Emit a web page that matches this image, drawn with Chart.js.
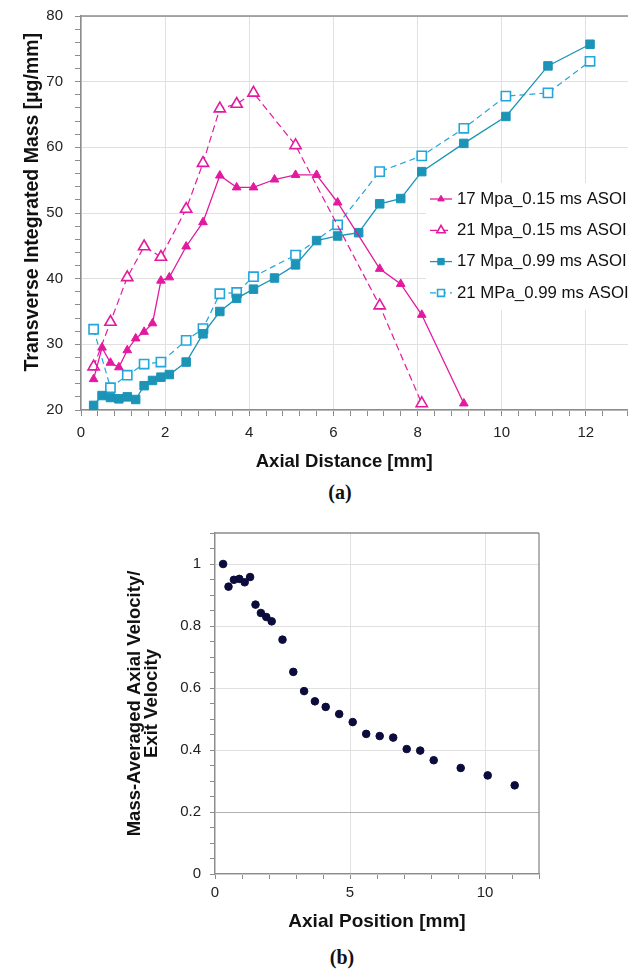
<!DOCTYPE html>
<html>
<head>
<meta charset="utf-8">
<script src="https://cdn.jsdelivr.net/npm/chart.js@4.4.1/dist/chart.umd.min.js"></script>
<style>
  body { margin: 0; background: #fff; width: 628px; height: 971px; position: relative; overflow: hidden; }
  canvas { position: absolute; left: 0; }
  #chartA { top: -5px; }
  #chartB { top: 500px; }
  .cap { position: absolute; font: bold 20px "Liberation Serif", "DejaVu Serif", serif; color: #111; transform: translate(-50%, -50%); }
</style>
</head>
<body>
<!-- canvas (a) runs 8px past the right edge so the plot area reaches it -->
<canvas id="chartA" width="636" height="485"></canvas>
<div class="cap" style="left:340px; top:492px">(a)</div>
<canvas id="chartB" width="628" height="440"></canvas>
<div class="cap" style="left:342px; top:957px">(b)</div>
<script>
// (a) transverse integrated mass vs axial distance
const x17_015 = [0.3, 0.5, 0.7, 0.9, 1.1, 1.3, 1.5, 1.7, 1.9, 2.1, 2.5, 2.9, 3.3, 3.7, 4.1, 4.6, 5.1, 5.6, 6.1, 7.1, 7.6, 8.1, 9.1];
const y17_015 = [24.7, 29.5, 27.2, 26.5, 29.1, 30.9, 31.9, 33.2, 39.7, 40.2, 44.9, 48.6, 55.7, 53.9, 53.9, 55.1, 55.8, 55.8, 51.6, 41.5, 39.2, 34.5, 21.0];

const x21_015 = [0.3, 0.7, 1.1, 1.5, 1.9, 2.5, 2.9, 3.3, 3.7, 4.1, 5.1, 7.1, 8.1];
const y21_015 = [26.6, 33.4, 40.2, 44.9, 43.3, 50.6, 57.6, 65.9, 66.6, 68.3, 60.3, 35.9, 21.0];

const x17_099 = [0.3, 0.5, 0.7, 0.9, 1.1, 1.3, 1.5, 1.7, 1.9, 2.1, 2.5, 2.9, 3.3, 3.7, 4.1, 4.6, 5.1, 5.6, 6.1, 6.6, 7.1, 7.6, 8.1, 9.1, 10.1, 11.1, 12.1];
const y17_099 = [20.7, 22.2, 21.9, 21.7, 22.0, 21.6, 23.7, 24.5, 25.0, 25.4, 27.3, 31.6, 35.0, 37.0, 38.4, 40.1, 42.1, 45.8, 46.5, 47.0, 51.4, 52.2, 56.3, 60.6, 64.7, 72.4, 75.7];

const x21_099 = [0.3, 0.7, 1.1, 1.5, 1.9, 2.5, 2.9, 3.3, 3.7, 4.1, 5.1, 6.1, 7.1, 8.1, 9.1, 10.1, 11.1, 12.1];
const y21_099 = [32.3, 23.4, 25.3, 27.0, 27.3, 30.6, 32.4, 37.7, 37.9, 40.3, 43.6, 48.2, 56.3, 58.7, 62.9, 67.8, 68.3, 73.1];

const seriesNames = ['17 Mpa_0.15 ms ASOI', '21 Mpa_0.15 ms ASOI', '17 Mpa_0.99 ms ASOI', '21 MPa_0.99 ms ASOI'];

// (b) mass-averaged axial velocity / exit velocity
const xVel = [0.3, 0.5, 0.7, 0.9, 1.1, 1.3, 1.5, 1.7, 1.9, 2.1, 2.5, 2.9, 3.3, 3.7, 4.1, 4.6, 5.1, 5.6, 6.1, 6.6, 7.1, 7.6, 8.1, 9.1, 10.1, 11.1];
const yVel = [1.0, 0.927, 0.949, 0.952, 0.941, 0.958, 0.869, 0.842, 0.829, 0.815, 0.756, 0.652, 0.590, 0.557, 0.539, 0.516, 0.490, 0.452, 0.445, 0.440, 0.403, 0.398, 0.367, 0.342, 0.318, 0.286];

const MAGENTA = '#e3199f', TEAL = '#1b94b8', SKY = '#22a6dc', NAVY = '#0c0c3c';
const AXIS = '#8c8c8c', GRID = '#e0e0e0';
const NB = '\u00A0';

Chart.defaults.font.family = '"Liberation Sans", Arial, Helvetica, sans-serif';
Chart.defaults.color = '#222';

function pts(xs, ys) {
  return xs.map((x, i) => ({ x: x, y: ys[i] }));
}
function onStep(v, step) {
  const r = v / step;
  return Math.abs(r - Math.round(r)) < 1e-6;
}

// box lines round the plot area
const frame = {
  id: 'frame',
  afterDraw(chart, args, opts) {
    const { left, right, top, bottom } = chart.chartArea;
    const ctx = chart.ctx;
    ctx.save();
    ctx.strokeStyle = opts.color;
    ctx.lineWidth = opts.width;
    ctx.beginPath();
    if (opts.sides.includes('top')) { ctx.moveTo(left, top); ctx.lineTo(right, top); }
    if (opts.sides.includes('right')) { ctx.moveTo(right, top); ctx.lineTo(right, bottom); }
    ctx.stroke();
    ctx.restore();
  }
};

// legend with a line and marker for each series
const lineLegend = {
  id: 'lineLegend',
  afterDraw(chart, args, opts) {
    const ctx = chart.ctx;
    ctx.save();
    ctx.fillStyle = '#fff';
    ctx.fillRect(opts.x - 4, opts.y0 - 16, chart.width - opts.x + 4, opts.dy * 4 + 2);
    chart.data.datasets.forEach((ds, i) => {
      const y = opts.y0 + i * opts.dy;
      ctx.strokeStyle = ds.borderColor;
      ctx.lineWidth = ds.borderWidth;
      ctx.setLineDash(ds.borderDash || []);
      ctx.beginPath();
      ctx.moveTo(opts.x, y);
      ctx.lineTo(opts.x + opts.len, y);
      ctx.stroke();
      ctx.setLineDash([]);
      ctx.fillStyle = ds.pointBackgroundColor;
      ctx.lineWidth = ds.pointBorderWidth;
      Chart.helpers.drawPoint(ctx, {
        pointStyle: ds.pointStyle, radius: ds.pointRadius * 0.75,
        rotation: 0, borderWidth: ds.pointBorderWidth
      }, opts.x + opts.len / 2, y);
      ctx.fillStyle = '#111';
      ctx.font = '16.8px "Liberation Sans", Arial, sans-serif';
      ctx.textBaseline = 'middle';
      ctx.fillText(ds.label, opts.x + opts.len + 5, y);
    });
    ctx.restore();
  }
};

new Chart(document.getElementById('chartA'), {
  type: 'scatter',
  data: {
    datasets: [
      {
        label: seriesNames[0], data: pts(x17_015, y17_015), showLine: true,
        borderColor: MAGENTA, borderWidth: 1.3, pointStyle: 'triangle', pointRadius: 5,
        pointBackgroundColor: MAGENTA, pointBorderColor: MAGENTA, pointBorderWidth: 1
      },
      {
        label: seriesNames[1], data: pts(x21_015, y21_015), showLine: true,
        borderColor: MAGENTA, borderWidth: 1.2, borderDash: [7, 4], pointStyle: 'triangle', pointRadius: 6.5,
        pointBackgroundColor: '#fff', pointBorderColor: MAGENTA, pointBorderWidth: 1.6
      },
      {
        label: seriesNames[2], data: pts(x17_099, y17_099), showLine: true,
        borderColor: TEAL, borderWidth: 1.3, pointStyle: 'rect', pointRadius: 6,
        pointBackgroundColor: TEAL, pointBorderColor: TEAL, pointBorderWidth: 1
      },
      {
        label: seriesNames[3], data: pts(x21_099, y21_099), showLine: true,
        borderColor: SKY, borderWidth: 1.2, borderDash: [6, 4], pointStyle: 'rect', pointRadius: 6.5,
        pointBackgroundColor: '#fff', pointBorderColor: SKY, pointBorderWidth: 1.6
      }
    ]
  },
  options: {
    responsive: false,
    animation: false,
    clip: false,
    layout: { padding: { top: 21, right: 0, bottom: 0, left: 0 } },
    plugins: {
      legend: { display: false },
      tooltip: { enabled: false },
      frame: { sides: ['top'], color: AXIS, width: 1.5 },
      lineLegend: { x: 430, len: 22, y0: 204, dy: 31.3 }
    },
    scales: {
      x: {
        type: 'linear', min: 0, max: 13,
        border: { color: AXIS, width: 1.5 },
        grid: {
          color: c => onStep(c.tick.value, 2) ? GRID : 'rgba(0,0,0,0)',
          tickColor: AXIS, tickLength: 6
        },
        ticks: {
          stepSize: 0.4, autoSkip: false, maxRotation: 0, padding: 8, font: { size: 15 },
          callback: v => onStep(v, 2) ? v : ''
        },
        title: {
          display: true, text: 'Axial Distance [mm]' + NB.repeat(4), color: '#111',
          font: { size: 18.5, weight: 'bold' }, padding: { top: 0, bottom: 7 }
        },
        afterFit: s => { s.height = 70; }
      },
      y: {
        type: 'linear', min: 20, max: 80,
        border: { color: AXIS, width: 1.5 },
        grid: {
          color: c => onStep(c.tick.value, 10) ? GRID : 'rgba(0,0,0,0)',
          tickColor: AXIS, tickLength: 6
        },
        ticks: {
          stepSize: 2, autoSkip: false, padding: 12, font: { size: 15 },
          callback: v => onStep(v, 10) ? v : ''
        },
        title: {
          display: true, text: NB.repeat(4) + 'Transverse Integrated Mass [µg/mm]', color: '#111',
          font: { size: 19.5, weight: 'bold' }, padding: { top: 21, bottom: 0 }
        },
        afterFit: s => { s.width = 81; }
      }
    }
  },
  plugins: [frame, lineLegend]
});

new Chart(document.getElementById('chartB'), {
  type: 'scatter',
  data: {
    datasets: [{
      data: pts(xVel, yVel), pointStyle: 'circle', pointRadius: 3.8,
      pointBackgroundColor: NAVY, pointBorderColor: NAVY, pointBorderWidth: 1
    }]
  },
  options: {
    responsive: false,
    animation: false,
    layout: { padding: { top: 33, right: 89, bottom: 4, left: 110 } },
    plugins: {
      legend: { display: false },
      tooltip: { enabled: false },
      frame: { sides: ['top', 'right'], color: AXIS, width: 1.3 }
    },
    scales: {
      x: {
        type: 'linear', min: 0, max: 12,
        border: { color: AXIS, width: 1.3 },
        grid: {
          color: c => onStep(c.tick.value, 5) ? GRID : 'rgba(0,0,0,0)',
          tickColor: AXIS, tickLength: 5
        },
        ticks: {
          stepSize: 1, autoSkip: false, maxRotation: 0, padding: 5, font: { size: 15 },
          callback: v => onStep(v, 5) ? v : ''
        },
        title: {
          display: true, text: 'Axial Position [mm]', color: '#111',
          font: { size: 19, weight: 'bold' }, padding: { top: 0, bottom: 3 }
        },
        afterFit: s => { s.height = 62; }
      },
      y: {
        type: 'linear', min: 0, max: 1.1,
        border: { color: AXIS, width: 1.3 },
        grid: {
          color: c => {
            const v = c.tick.value;
            if (!onStep(v, 0.2)) return 'rgba(0,0,0,0)';
            return Math.abs(v - 0.2) < 1e-6 ? '#b0b0b0' : GRID;
          },
          tickColor: AXIS, tickLength: 5
        },
        ticks: {
          stepSize: 0.05, autoSkip: false, padding: 9, font: { size: 15 },
          callback: v => onStep(v, 0.2) ? v : ''
        },
        title: {
          display: true, text: ['Mass-Averaged Axial Velocity/', 'Exit Velocity'], color: '#111',
          font: { size: 18.5, weight: 'bold', lineHeight: 0.9 }, padding: { top: 16.7, bottom: 0 }
        },
        afterFit: s => { s.width = 105; }
      }
    }
  },
  plugins: [frame]
});
</script>
</body>
</html>
